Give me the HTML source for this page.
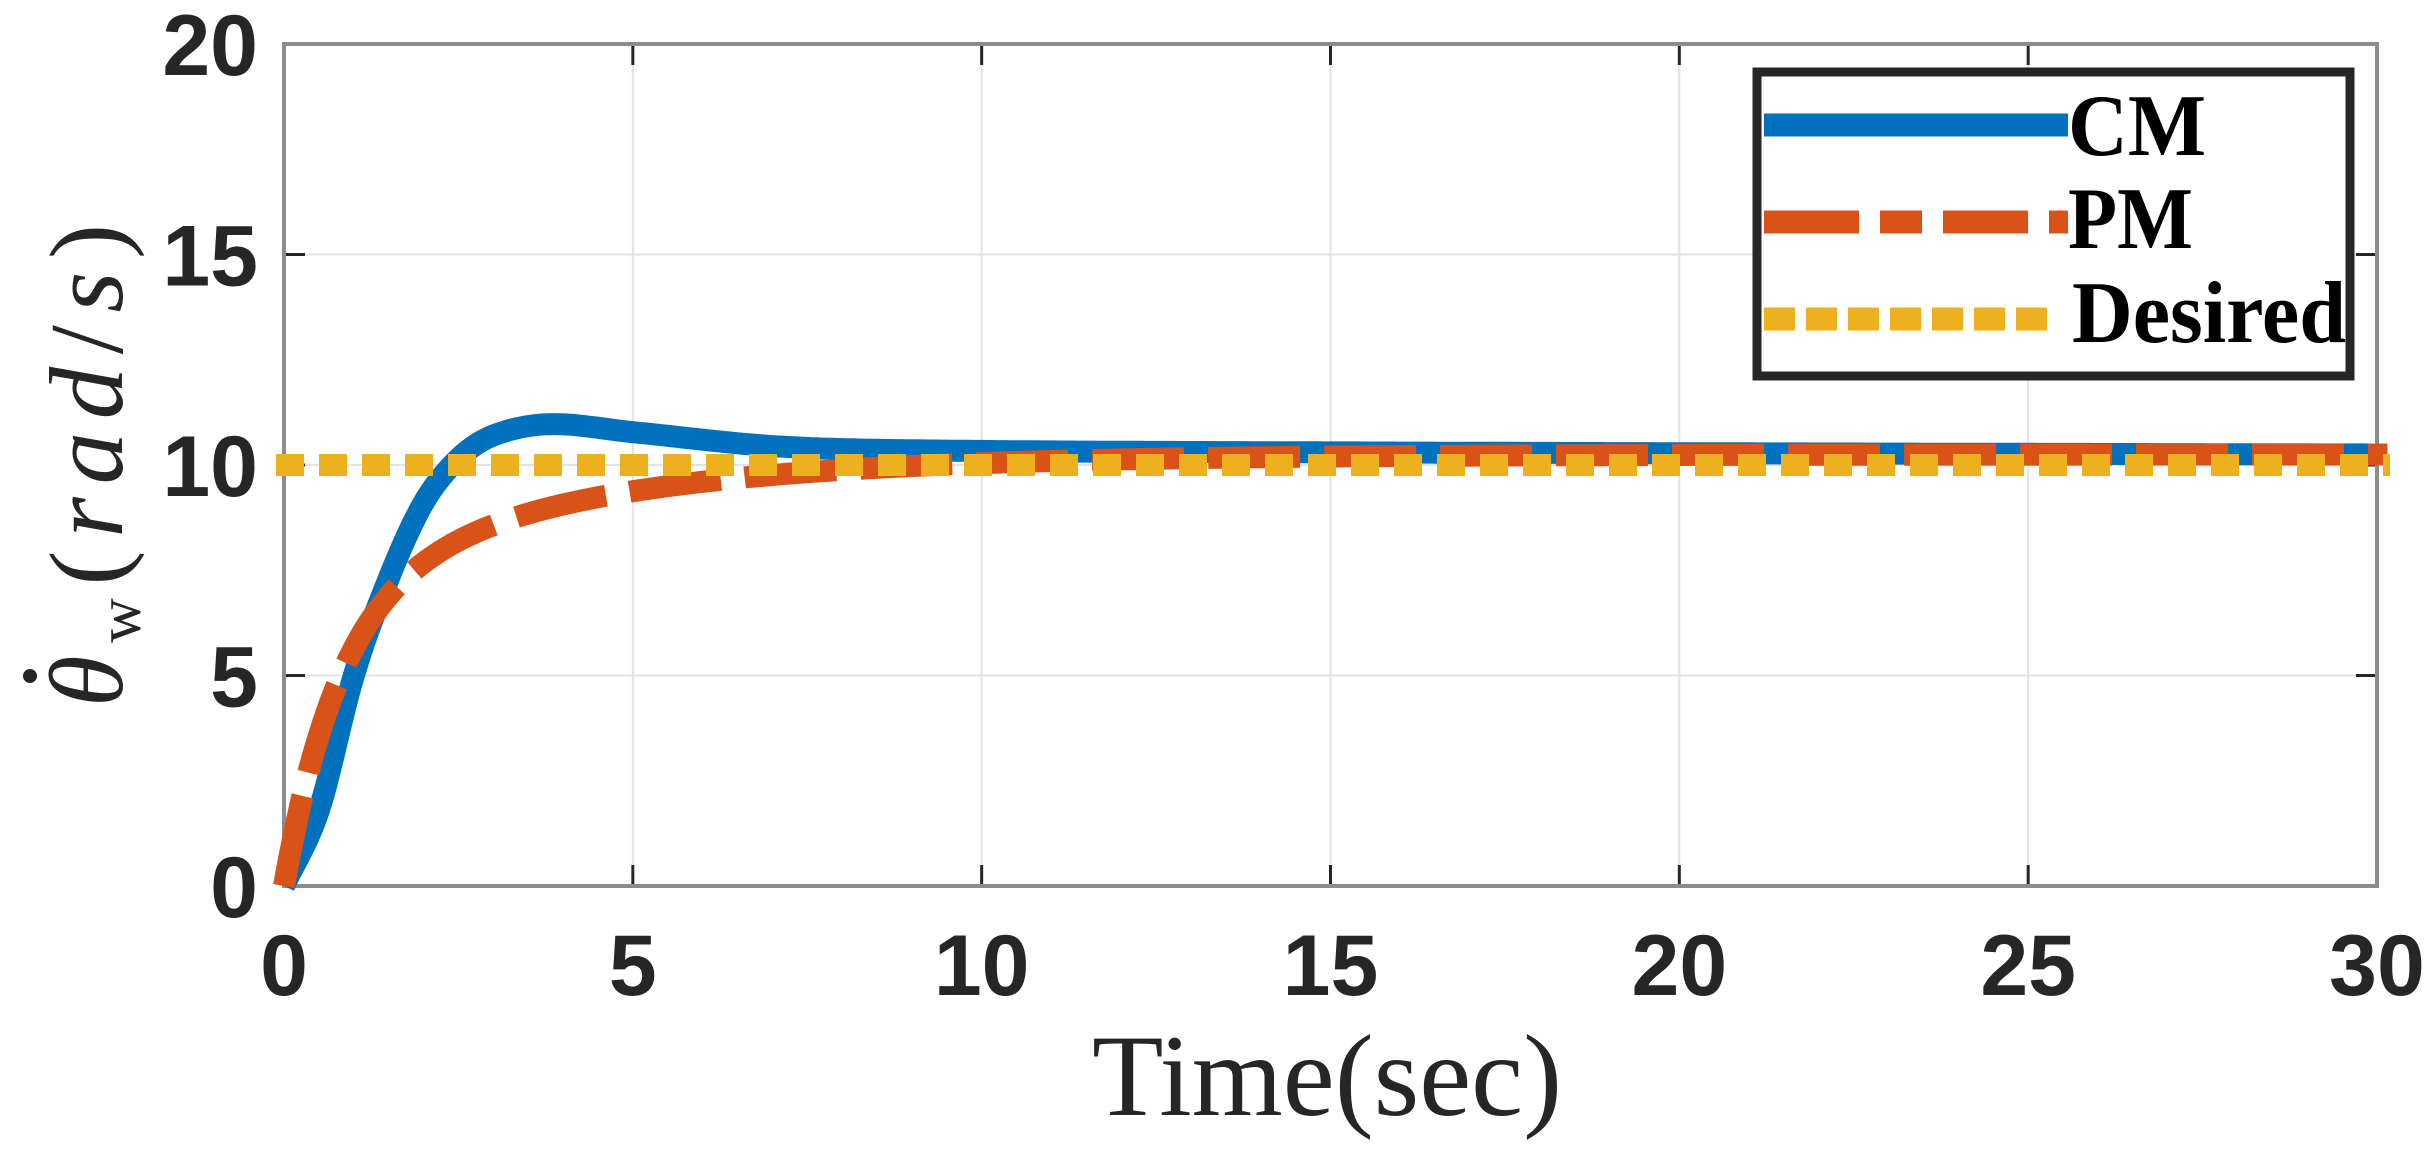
<!DOCTYPE html>
<html><head><meta charset="utf-8"><style>
html,body{margin:0;padding:0;background:#fff;}
svg{display:block;}
</style></head><body>
<svg id="s" width="2431" height="1157" viewBox="0 0 2431 1157" xmlns="http://www.w3.org/2000/svg">
<rect width="2431" height="1157" fill="#fff"/>
<g id="grid" stroke="#e3e3e3" stroke-width="2"></g>
<g id="ticks" stroke="#262626" stroke-width="3"></g>
<rect x="284" y="44" width="2093" height="842" fill="none" stroke="#8c8c8c" stroke-width="4"/>
<g id="lbl" font-family="Liberation Sans, Arial, sans-serif" font-weight="bold" font-size="86" fill="#262626"></g>
<path id="cm" fill="none" stroke="#0072BD" stroke-width="22" stroke-linejoin="round"/>
<path id="pm" fill="none" stroke="#D95319" stroke-width="22" stroke-dasharray="92 24"/>
<line x1="276" y1="465" x2="2390" y2="465" stroke="#EDB120" stroke-width="22" stroke-dasharray="28 15"/>
<text x="1327" y="1115" text-anchor="middle" font-family="Liberation Serif, serif" font-size="117" fill="#262626">Time(sec)</text>
<g transform="translate(122,466) rotate(-90)" font-family="Liberation Serif, serif" font-size="105" fill="#262626">
<text x="-241" y="0" textLength="483" lengthAdjust="spacing"><tspan font-style="italic">θ</tspan><tspan font-size="62" dy="18">w</tspan><tspan dy="-18">(</tspan><tspan font-style="italic">rad</tspan>/<tspan font-style="italic">s</tspan>)</text>
<circle cx="-210" cy="-92" r="7" fill="#262626"/>
</g>
<rect x="1757" y="72" width="593" height="304" fill="#fff" stroke="#262626" stroke-width="9"/>
<line x1="1764" y1="125" x2="2068" y2="125" stroke="#0072BD" stroke-width="23"/>
<line x1="1764" y1="222" x2="2068" y2="222" stroke="#D95319" stroke-width="23" stroke-dasharray="95 21 42 21 85 21"/>
<line x1="1764" y1="319" x2="2050" y2="319" stroke="#EDB120" stroke-width="23" stroke-dasharray="31 11"/>
<g font-family="Liberation Serif, serif" font-weight="bold" font-size="88" fill="#000">
<text x="2068" y="155" textLength="138" lengthAdjust="spacingAndGlyphs">CM</text>
<text x="2068" y="248" textLength="125" lengthAdjust="spacingAndGlyphs">PM</text>
<text x="2072" y="342" textLength="274" lengthAdjust="spacingAndGlyphs">Desired</text>
</g>
</svg>
<script>
var X=function(t){return 284+t*2093/30},Y=function(v){return 886-v*42.1};
var NS="http://www.w3.org/2000/svg";
function el(p,n,a,txt){var e=document.createElementNS(NS,n);for(var k in a)e.setAttribute(k,a[k]);if(txt!=null)e.textContent=txt;document.getElementById(p).appendChild(e);}
for(var t=0;t<=30;t+=5){var x=X(t);el("grid","line",{x1:x,y1:44,x2:x,y2:886});el("ticks","line",{x1:x,y1:886,x2:x,y2:865});el("ticks","line",{x1:x,y1:44,x2:x,y2:65});
el("lbl","text",{x:x,y:995,"text-anchor":"middle"},String(t));}
for(var v=0;v<=20;v+=5){var y=Y(v);el("grid","line",{x1:284,y1:y,x2:2377,y2:y});el("ticks","line",{x1:284,y1:y,x2:305,y2:y});el("ticks","line",{x1:2377,y1:y,x2:2356,y2:y});
el("lbl","text",{x:258,y:y+31,"text-anchor":"end"},String(v));}
var P=[[0,0],[0.5,1.8],[1,5.0],[1.5,7.3],[2,9.1],[2.5,10.15],[3,10.7],[3.8,10.97],[5,10.78],[7,10.45],[9,10.35],[15,10.3],[30,10.25]];
function cr(t){var i=0;while(i<P.length-2&&t>P[i+1][0])i++;var p0=P[Math.max(i-1,0)],p1=P[i],p2=P[i+1],p3=P[Math.min(i+2,P.length-1)];
var h=p2[0]-p1[0],u=(t-p1[0])/h;var m1=(p2[1]-p0[1])/(p2[0]-p0[0]||1)*h,m2=(p3[1]-p1[1])/(p3[0]-p1[0]||1)*h;
var u2=u*u,u3=u2*u;return (2*u3-3*u2+1)*p1[1]+(u3-2*u2+u)*m1+(-2*u3+3*u2)*p2[1]+(u3-u2)*m2;}
var d1="",d2="";for(var t=0;t<=30.2;t+=0.05){var tt=Math.min(t,30);var c=cr(tt);
var pm=10.25*(1-0.65*Math.exp(-t/0.8)-0.35*Math.exp(-t/3.5));
d1+=(t==0?"M":"L")+X(t).toFixed(1)+","+Y(c).toFixed(1);d2+=(t==0?"M":"L")+X(t).toFixed(1)+","+Y(pm).toFixed(1);}
document.getElementById("cm").setAttribute("d",d1);document.getElementById("pm").setAttribute("d",d2);
</script>
</body></html>
